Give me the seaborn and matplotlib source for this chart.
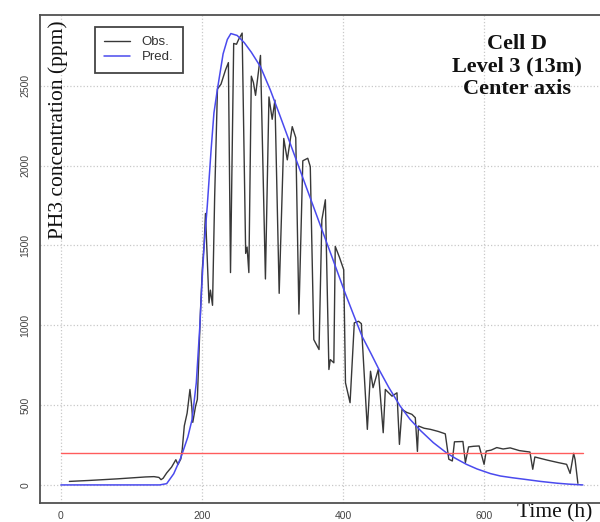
import matplotlib
matplotlib.use("Agg")
import matplotlib.pyplot as plt
import seaborn as sns

# Observed PH3 concentration (ppm) vs time (h)
obs_time = [12, 40, 60, 80, 100, 120, 132, 139, 142, 145, 150, 157, 163, 166, 170,
            172, 175, 179, 183, 185.5, 187, 191, 193.5, 196, 198, 200.5, 203, 205,
            210, 212, 215, 218, 222, 227, 233.5, 237.5, 240.5, 245, 249, 252, 257,
            262, 264, 266.5, 270, 273, 276, 281, 283, 290, 295, 299.6, 303.5,
            309.5, 316, 321, 328, 333, 337.5, 343, 350, 353.6, 358.6, 366, 370,
            375, 380, 382, 387, 389, 395, 401, 403.5, 410, 416, 422, 426, 434.5,
            439, 442.6, 450, 457, 460, 469.5, 476.5, 480, 483.6, 490, 497.7,
            502.5, 505.5, 507, 515, 524, 535, 545, 550, 555, 558, 570, 573.5,
            578, 585, 593, 600, 603, 610, 618, 627, 637, 650, 665, 669, 672,
            690, 705, 717, 722, 727, 729, 733]
obs_ppm = [22, 28, 33, 38, 44, 50, 52, 47, 33, 42, 75, 112, 158, 128, 162,
           220, 370, 450, 598, 494, 392, 494, 536, 850, 1100, 1350, 1500, 1700,
           1140, 1220, 1125, 1800, 2480, 2510, 2600, 2645, 1330, 2765, 2760, 2790, 2830,
           1450, 1490, 1330, 2560, 2520, 2440, 2620, 2690, 1290, 2430, 2290, 2410,
           1200, 2170, 2036, 2244, 2175, 1070, 2030, 2046, 1994, 910, 848, 1660,
           1786, 723, 785, 765, 1494, 1425, 1348, 640, 515, 1015, 1025, 1010, 348,
           712, 609, 723, 327, 598, 556, 577, 254, 473, 455, 442,
           421, 210, 369, 355, 348, 335, 320, 161, 150, 270, 272, 140,
           238, 242, 244, 129, 212, 218, 234, 225, 232, 215, 206, 98, 175,
           155, 140, 129, 72, 198, 160, 10]

# Model prediction
pred_time = [0, 140, 150, 160, 170, 180, 186, 192, 197, 200.5, 203, 207.5, 213, 217,
             222, 230, 236, 241, 250, 260, 270, 283, 290, 297, 310, 325, 340, 355,
             370, 385, 403, 415, 427, 440, 451, 465, 481, 495, 510, 528, 547, 560,
             575, 590, 609, 623, 640, 656, 680, 703, 720, 740]
pred_ppm = [0, 0, 8, 70, 170, 300, 410, 640, 994, 1306, 1494, 1744, 2100, 2330,
            2480, 2700, 2790, 2827, 2815, 2770, 2710, 2619, 2546, 2473, 2320, 2140, 1960, 1780,
            1600, 1420, 1202, 1065, 931, 820, 723, 610, 494, 411, 340, 265, 200, 165,
            129, 100, 71, 56, 45, 36, 22, 11, 5, 0]

# Threshold line
limit_time = [0, 740]
limit_ppm = [200, 200]

x_ticks = [0, 200, 400, 600]
y_ticks = [0, 500, 1000, 1500, 2000, 2500]

sns.set_style("white")
plt.rcParams["font.family"] = ["Liberation Sans", "DejaVu Sans"]

fig = plt.figure(figsize=(6, 5.22), dpi=100)
ax = fig.add_axes([40 / 600, 19 / 522, 563.7 / 600, 488 / 522])

sns.lineplot(x=obs_time, y=obs_ppm, ax=ax, color="#383838", lw=1.0,
             sort=False, label="Obs.")
sns.lineplot(x=pred_time, y=pred_ppm, ax=ax, color="#4a4aee", lw=1.1,
             sort=False, label="Pred.")
sns.lineplot(x=limit_time, y=limit_ppm, ax=ax, color="#ff5c5c", lw=1.0,
             sort=False)

ax.set_xlim(-29.6, 769.6)
ax.set_ylim(-113.2, 2943.2)
ax.set_xticks(x_ticks)
ax.set_yticks(y_ticks)
ax.grid(True, linestyle=":", color="#c8c8c8", lw=0.9)
ax.set_axisbelow(True)

for side in ["left", "top", "bottom", "right"]:
    ax.spines[side].set_color("#505050")
    ax.spines[side].set_linewidth(1.3)

ax.tick_params(axis="both", length=0, labelsize=7.5, colors="#444444")
ax.tick_params(axis="y", pad=7, labelrotation=90)
ax.tick_params(axis="x", pad=5.5)
plt.setp(ax.get_yticklabels(), va="center")

ax.set_ylabel("PH3 concentration (ppm)", family="Liberation Serif",
              fontsize=15.5, color="#111111")
ax.yaxis.set_label_coords(0.0503, 0.764)
ax.set_xlabel("Time (h)", family="Liberation Serif", fontsize=15.5,
              color="#111111")
ax.xaxis.set_label_coords(0.9136, -0.001)

ax.text(0.846, 0.961, "Cell D\nLevel 3 (13m)\nCenter axis",
        transform=ax.transAxes, ha="center", va="top", multialignment="center",
        family="Liberation Serif", fontweight="bold", fontsize=16,
        linespacing=1.15, color="#111111")

handles, labels = ax.get_legend_handles_labels()
leg = ax.legend(handles[:2], labels[:2], loc="upper left",
                bbox_to_anchor=(95 / 600, 1 - 27 / 522),
                bbox_transform=fig.transFigure, borderaxespad=0,
                fontsize=9.5, frameon=True, fancybox=False,
                edgecolor="#444444", framealpha=1,
                handlelength=1.95, handletextpad=0.9, borderpad=0.7,
                labelspacing=0.2)
leg.get_frame().set_linewidth(1.3)
for t in leg.get_texts():
    t.set_color("#333333")

fig.savefig("out.png", dpi=100)
